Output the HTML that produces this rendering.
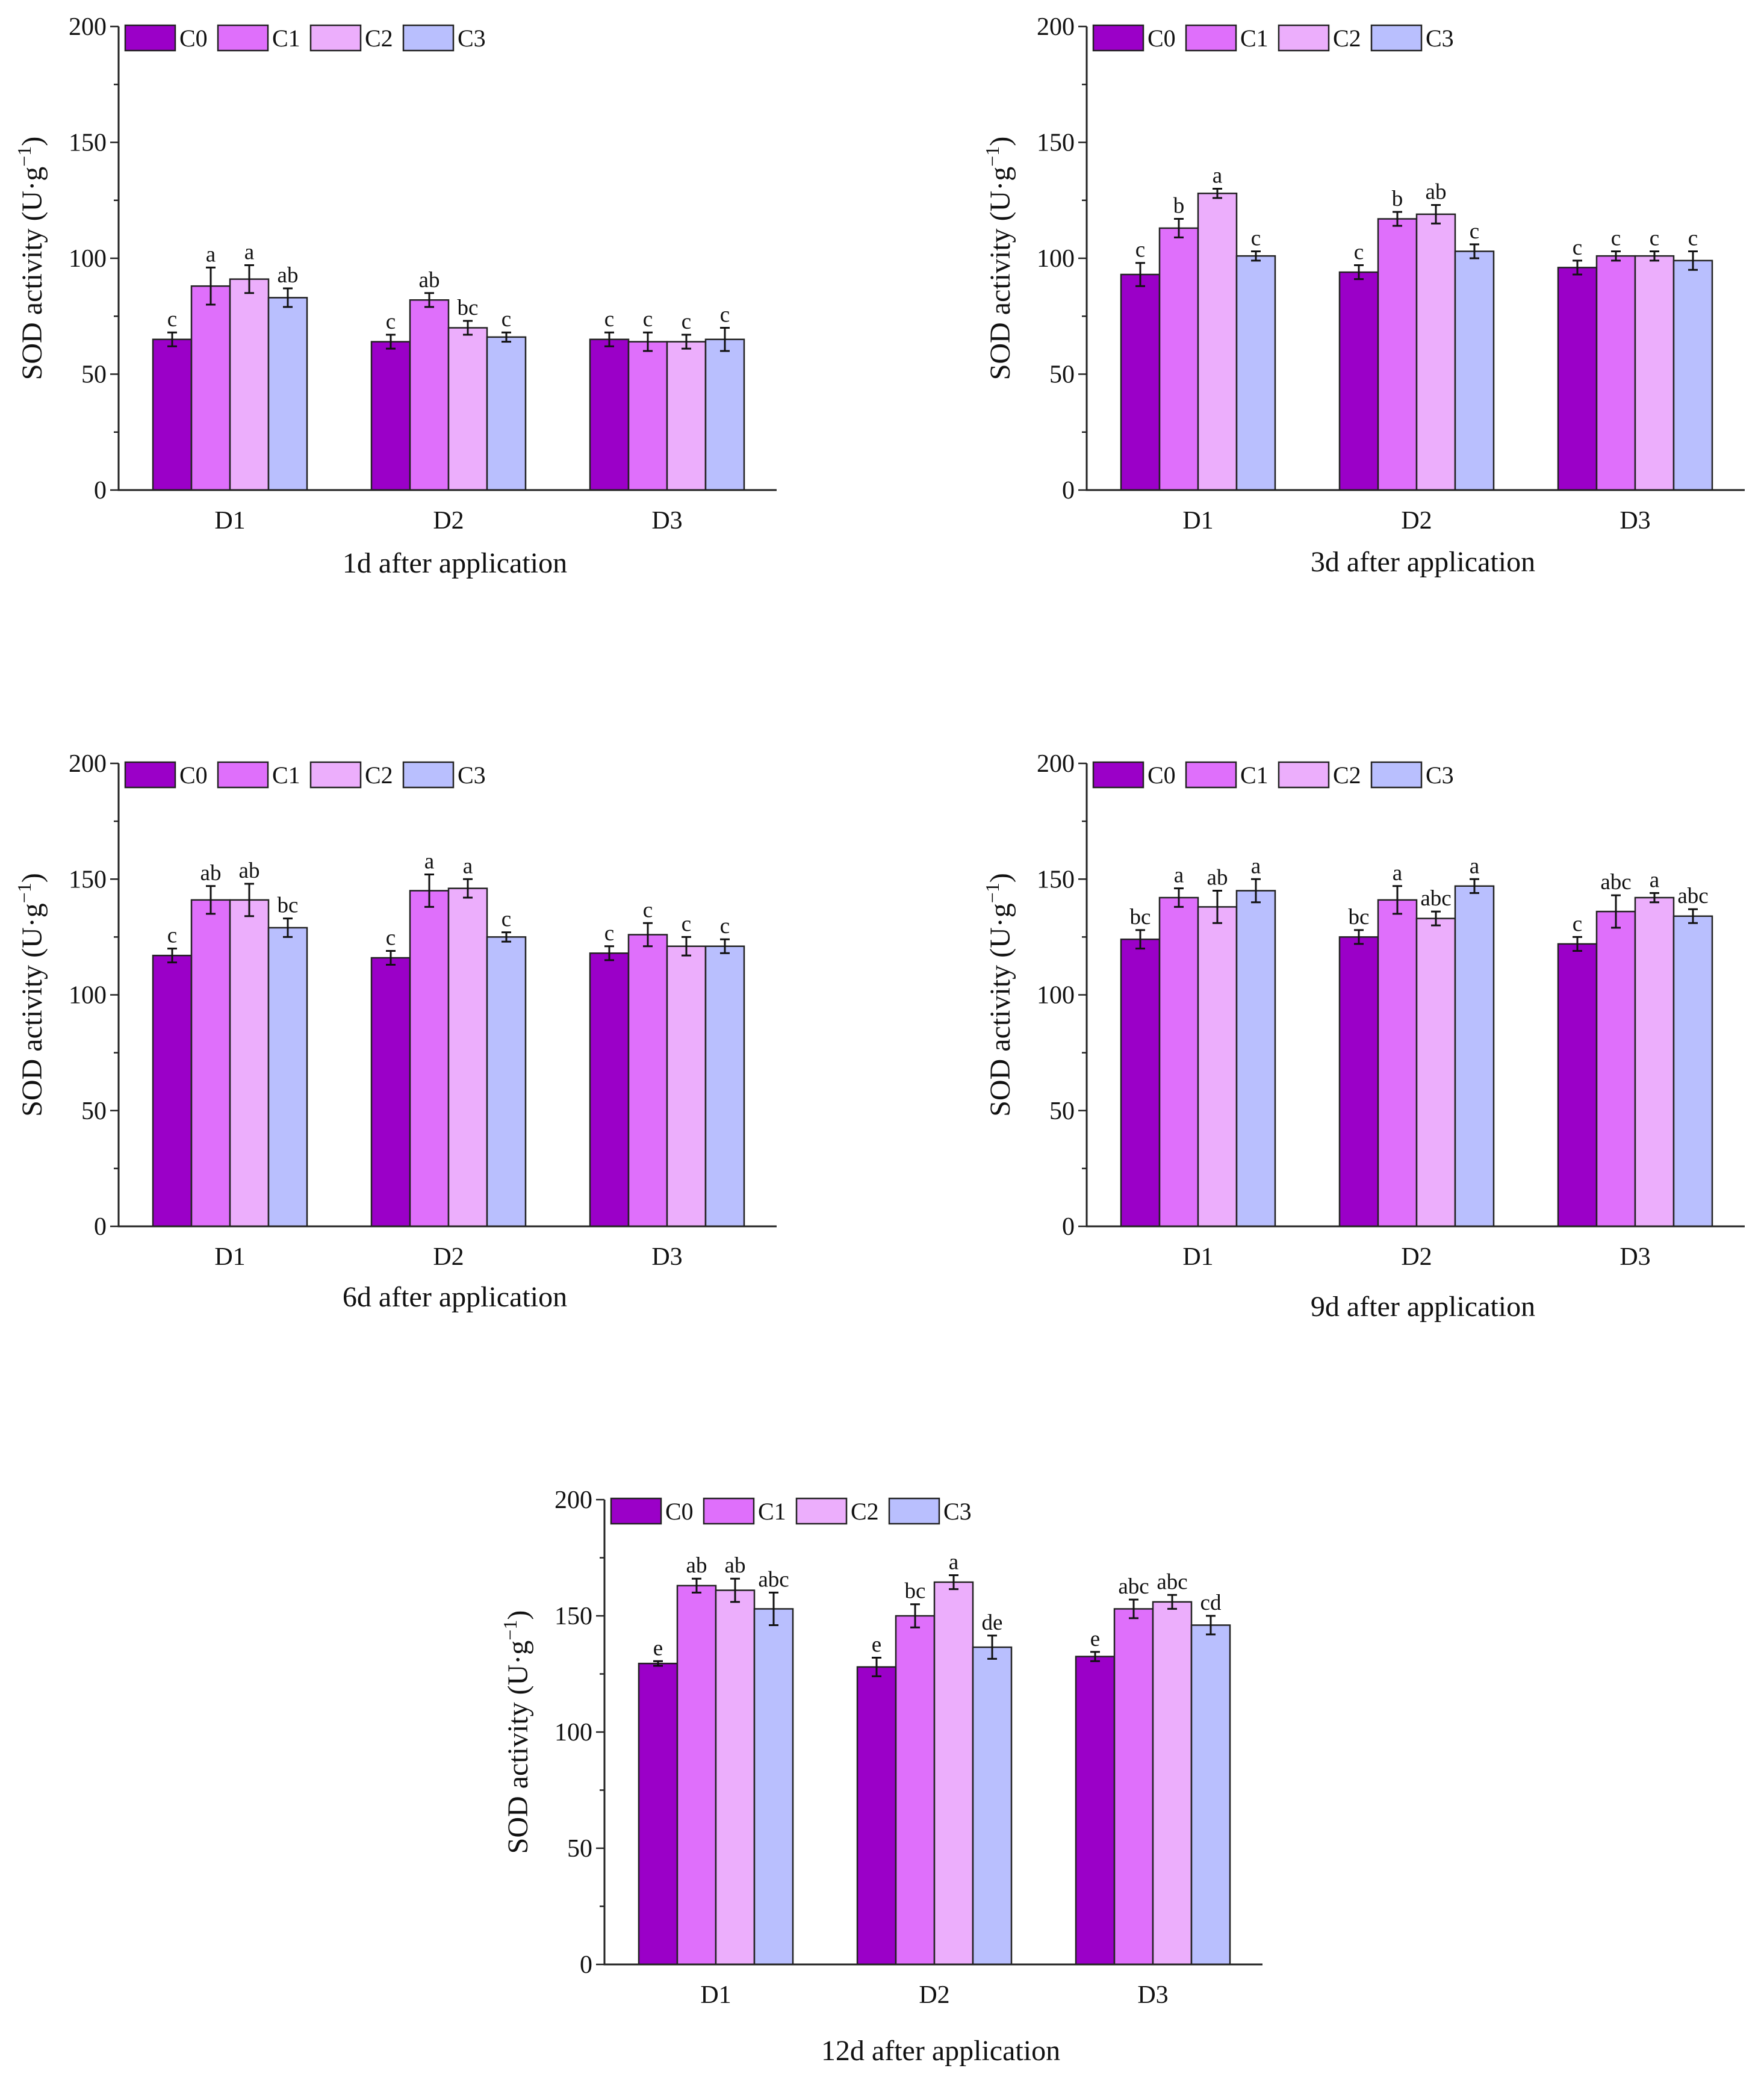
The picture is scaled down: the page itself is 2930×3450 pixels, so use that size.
<!DOCTYPE html>
<html><head><meta charset="utf-8"><style>
html,body{margin:0;padding:0;background:#fff;}
svg{display:block;font-family:"Liberation Serif",serif;}
</style></head><body>
<svg id="root" width="2930" height="3450" viewBox="0 0 2930 3450"></svg>
<script>
const categories = ["D1","D2","D3"];
const seriesNames = ["C0","C1","C2","C3"];
const yTicks = [0,50,100,150,200];
const panelTitles = ["1d after application","3d after application","6d after application","9d after application","12d after application"];
const p1Values = [[65,88,91,83],[64,82,70,66],[65,64,64,65]];
const p1Errors = [[3,8,6,4],[3,3,3,2],[3,4,3,5]];
const p1Letters = [["c","a","a","ab"],["c","ab","bc","c"],["c","c","c","c"]];
const p2Values = [[93,113,128,101],[94,117,119,103],[96,101,101,99]];
const p2Errors = [[5,4,2,2],[3,3,4,3],[3,2,2,4]];
const p2Letters = [["c","b","a","c"],["c","b","ab","c"],["c","c","c","c"]];
const p3Values = [[117,141,141,129],[116,145,146,125],[118,126,121,121]];
const p3Errors = [[3,6,7,4],[3,7,4,2],[3,5,4,3]];
const p3Letters = [["c","ab","ab","bc"],["c","a","a","c"],["c","c","c","c"]];
const p4Values = [[124,142,138,145],[125,141,133,147],[122,136,142,134]];
const p4Errors = [[4,4,7,5],[3,6,3,3],[3,7,2,3]];
const p4Letters = [["bc","a","ab","a"],["bc","a","abc","a"],["c","abc","a","abc"]];
const p5Values = [[129.5,163,161,153],[128,150,164.5,136.5],[132.5,153,156,146]];
const p5Errors = [[1,3,5,7],[4,5,3,5],[2,4,3,4]];
const p5Letters = [["e","ab","ab","abc"],["e","bc","a","de"],["e","abc","abc","cd"]];

const colors = ["#9b00c8","#df6ffb","#ecaefc","#b9bffe"];
const NS="http://www.w3.org/2000/svg";
const root=document.getElementById('root');
function mk(tag,attrs,parent,text){const e=document.createElementNS(NS,tag);for(const k in attrs)e.setAttribute(k,attrs[k]);if(text!==undefined)e.textContent=text;parent.appendChild(e);return e;}

const panels=[
 {ax:197,top:44,bot:814,titleY:951,vals:p1Values,errs:p1Errors,lets:p1Letters},
 {ax:1805,top:44,bot:814,titleY:949,vals:p2Values,errs:p2Errors,lets:p2Letters},
 {ax:197,top:1268,bot:2037,titleY:2170,vals:p3Values,errs:p3Errors,lets:p3Letters},
 {ax:1805,top:1268,bot:2037,titleY:2186,vals:p4Values,errs:p4Errors,lets:p4Letters},
 {ax:1004,top:2491,bot:3263,titleY:3422,vals:p5Values,errs:p5Errors,lets:p5Letters}
];
const W=1093,barW=64,groupStep=363,firstOff=57;

panels.forEach((p,pi)=>{
 const g=mk('g',{},root);
 
 
 const yS=v=>p.bot-(v/200)*(p.bot-p.top);
 const xS=(ci,si)=>p.ax+firstOff+ci*groupStep+si*barW;
 categories.forEach((c,ci)=>{
  seriesNames.forEach((s,si)=>{
   const v=p.vals[ci][si],e=p.errs[ci][si];
   const x=xS(ci,si),y=yS(v);
   const r=mk('rect',{x:x,y:y,width:barW,height:p.bot-y,fill:colors[si],stroke:'#222','stroke-width':2.5},g);
   
   
   const cx=x+barW/2,y1=yS(v+e),y2=yS(v-e);
   const eb=mk('path',{d:`M${cx},${y1}V${y2}M${cx-8},${y1}H${cx+8}M${cx-8},${y2}H${cx+8}`,stroke:'#111','stroke-width':3,fill:'none'},g);
   
   
   const t=mk('text',{x:cx,y:y1-10,'font-size':37,'text-anchor':'middle',fill:'#111'},g,p.lets[ci][si]);
   
   
  });
  const cl=mk('text',{x:xS(ci,0)+2*barW,y:p.bot+64,'font-size':42,'text-anchor':'middle',fill:'#111'},g,c);
  
  
 });
 const ax=mk('path',{d:`M${p.ax},${p.top}V${p.bot}H${p.ax+W}`,stroke:'#222','stroke-width':3,fill:'none'},g);
 
 
 for(let v=0;v<=200;v+=25){
  const y=yS(v),major=v%50===0;
  mk('line',{x1:p.ax-(major?14:8),x2:p.ax,y1:y,y2:y,stroke:'#222','stroke-width':2.5},g);
 }
 yTicks.forEach(v=>{
  const t=mk('text',{x:p.ax-20,y:yS(v)+14,'font-size':42,'text-anchor':'end',fill:'#111'},g,String(v));
  
  
 });
 const midY=(p.top+p.bot)/2;
 const yt=mk('text',{x:0,y:0,'font-size':48,'text-anchor':'middle',fill:'#111',transform:`translate(${p.ax-128},${midY}) rotate(-90)`},g);
 
 
 yt.appendChild(document.createTextNode('SOD activity (U·g'));
 mk('tspan',{dy:-18,'font-size':32},yt,'−1');
 mk('tspan',{dy:18},yt,')');
 const tt=mk('text',{x:p.ax+W/2+12,y:p.titleY,'font-size':48,'text-anchor':'middle',fill:'#111'},g,panelTitles[pi]);
 
 
 seriesNames.forEach((s,si)=>{
  const lx=p.ax+11+si*154,ly=p.top-2;
  const lg=mk('g',{},g);
  
  
  mk('rect',{x:lx,y:ly,width:83,height:42,fill:colors[si],stroke:'#222','stroke-width':2.5},lg);
  mk('text',{x:lx+90,y:ly+35,'font-size':40,fill:'#111'},lg,s);
 });
});
</script>
</body></html>
